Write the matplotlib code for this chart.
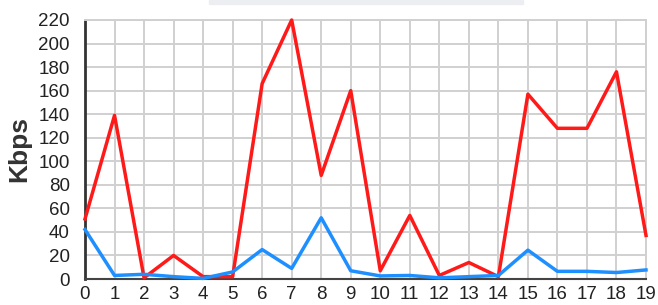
import matplotlib.pyplot as plt
from matplotlib.patches import Rectangle

plt.rcParams['font.family'] = ['Liberation Sans', 'DejaVu Sans']

# 数据
x = list(range(20))
red_kbps = [51, 139, 1, 20, 2, 2, 166, 220, 88, 160, 7, 54, 3, 14, 2, 157, 128, 128, 176, 37]
blue_kbps = [42, 3, 4, 2, 0.5, 6, 25, 9, 52, 7, 2.6, 3, 1, 2, 3, 24.5, 6.5, 6.5, 5.5, 7.7]
yticks = list(range(0, 221, 20))

fig = plt.figure(figsize=(6.58, 3.05), dpi=100)
ax = fig.add_axes([85 / 658, 1 - 279 / 305, (646 - 85) / 658, (279 - 20) / 305])

# 图例底色 (顶部被裁掉)
fig.patches.append(Rectangle((209 / 658, 1 - 4 / 305), 314 / 658, 4 / 305,
                             transform=fig.transFigure, color='#eceef1', zorder=0))

ax.plot(x, red_kbps, color='#ff1a1a', lw=2.5, zorder=3, clip_on=False)
ax.plot(x, blue_kbps, color='#1e8fff', lw=2.5, zorder=3, clip_on=False)

ax.set_xlim(0, 19)
ax.set_ylim(0, 220)
ax.set_xticks(x)
ax.set_yticks(yticks)
ax.grid(True, color='#d0d0d0', lw=1.4)
ax.set_axisbelow(True)

for s in ['top', 'right']:
    ax.spines[s].set_color('#d0d0d0')
    ax.spines[s].set_linewidth(1.4)
ax.spines['left'].set_color('#333333')
ax.spines['left'].set_linewidth(2)
ax.spines['bottom'].set_color('#444444')
ax.spines['bottom'].set_linewidth(1.5)

ax.tick_params(axis='both', length=0, labelsize=13.5, colors='#222222')
ax.tick_params(axis='y', pad=11)
ax.tick_params(axis='x', pad=5)
ax.set_ylabel("Kbps", fontsize=19, fontweight='bold', color='#333333')
ax.yaxis.set_label_coords(-0.095, 0.5)

fig.savefig("out.png", dpi=100)
